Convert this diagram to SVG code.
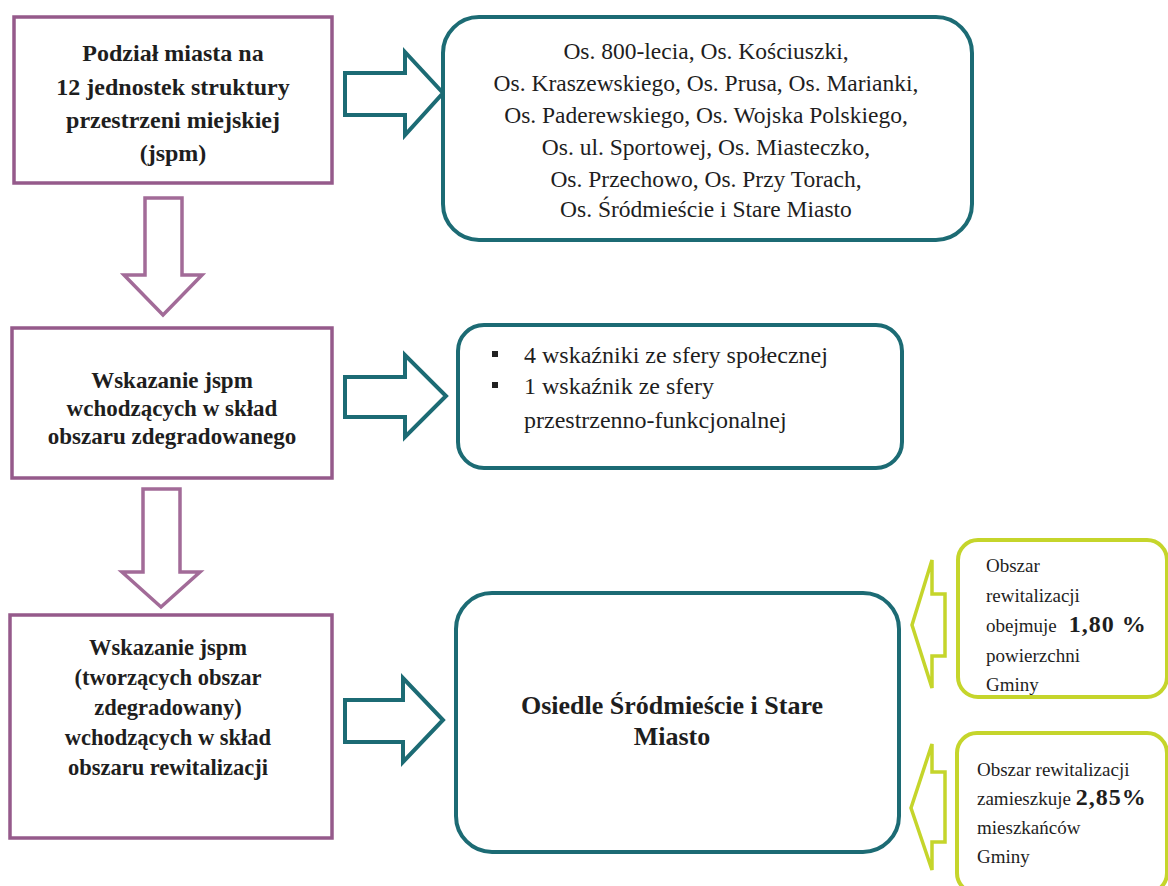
<svg xmlns="http://www.w3.org/2000/svg" width="1168" height="886" viewBox="0 0 1168 886">
<style>
.pbox{fill:#fff;stroke:#955a8b;stroke-width:3.5}
.tbox{fill:#fff;stroke:#1c6b74;stroke-width:4}
.gbox{fill:#fff;stroke:#c5d52b;stroke-width:4}
.parr{fill:#fff;stroke:#a26b98;stroke-width:3.5;stroke-linejoin:miter}
.tarr{fill:#fff;stroke:#1c6b74;stroke-width:4;stroke-linejoin:miter}
.garr{fill:#fff;stroke:#c5d52b;stroke-width:3.5;stroke-linejoin:miter}
text{font-family:"Liberation Serif","Times New Roman",serif;fill:#1e1e1e}
.b{font-weight:bold}
.c{text-anchor:middle}
.s1{font-size:24px}
.s2{font-size:23px}
.s3{font-size:22.5px}
.s4{font-size:23.5px}
.s5{font-size:24px}
.s6{font-size:26px}
.g{font-size:19px}
.gn{font-size:24px;font-weight:bold;letter-spacing:1px}
</style>
<rect width="1168" height="886" fill="#fff"/>
<g id="connectors">
<path class="parr" d="M145,198 H182 V275 H202 L163,315 L124,275 H145 Z"/>
<path class="parr" d="M143,489 H180 V572 H200 L161,607 L122,572 H143 Z"/>
<path class="tarr" d="M345,73 H405 V52 L443,93 L405,135 V115 H345 Z"/>
<path class="tarr" d="M345,377 H405 V355 L446,396 L405,437 V417 H345 Z"/>
<path class="tarr" d="M345,700 H403 V678 L443,720 L403,762 V742 H345 Z"/>
<path class="garr" d="M945,594 H932 V560 L912,625 L932,688 V656 H945 Z"/>
<path class="garr" d="M945,772 H932 V744 L911,808 L932,870 V842 H945 Z"/>
</g>
<g id="node-podzial">
<rect class="pbox" x="14" y="17" width="318" height="166"/>
<text class="b c s1" x="173" y="61">Podział miasta na</text>
<text class="b c s1" x="173" y="95">12 jednostek struktury</text>
<text class="b c s1" x="173" y="128">przestrzeni miejskiej</text>
<text class="b c s1" x="173" y="161">(jspm)</text>
</g>
<g id="node-osiedla">
<rect class="tbox" x="443" y="17" width="529" height="223" rx="36"/>
<text class="c s4" x="706" y="59">Os. 800-lecia, Os. Kościuszki,</text>
<text class="c s4" x="706" y="91">Os. Kraszewskiego, Os. Prusa, Os. Marianki,</text>
<text class="c s4" x="706" y="123">Os. Paderewskiego, Os. Wojska Polskiego,</text>
<text class="c s4" x="706" y="155">Os. ul. Sportowej, Os. Miasteczko,</text>
<text class="c s4" x="706" y="187">Os. Przechowo, Os. Przy Torach,</text>
<text class="c s4" x="706" y="217">Os. Śródmieście i Stare Miasto</text>
</g>
<g id="node-zdegradowany">
<rect class="pbox" x="12" y="328" width="320" height="150"/>
<text class="b c s2" x="172" y="388">Wskazanie jspm</text>
<text class="b c s2" x="172" y="416">wchodzących w skład</text>
<text class="b c s2" x="172" y="444">obszaru zdegradowanego</text>
</g>
<g id="node-wskazniki">
<rect class="tbox" x="458" y="325" width="444" height="143" rx="26"/>
<rect x="492" y="351" width="6" height="6" fill="#222"/>
<rect x="492" y="382" width="6" height="6" fill="#222"/>
<text class="s5" x="524" y="363">4 wskaźniki ze sfery społecznej</text>
<text class="s5" x="524" y="394">1 wskaźnik ze sfery</text>
<text class="s5" x="524" y="428">przestrzenno-funkcjonalnej</text>
</g>
<g id="node-rewitalizacja">
<rect class="pbox" x="10" y="615" width="322" height="223"/>
<text class="b c s3" x="168" y="655">Wskazanie jspm</text>
<text class="b c s3" x="168" y="685">(tworzących obszar</text>
<text class="b c s3" x="168" y="715">zdegradowany)</text>
<text class="b c s3" x="168" y="745">wchodzących w skład</text>
<text class="b c s3" x="168" y="775">obszaru rewitalizacji</text>
</g>
<g id="node-srodmiescie">
<rect class="tbox" x="456" y="593" width="443" height="259" rx="36"/>
<text class="b c s6" x="672" y="714">Osiedle Śródmieście i Stare</text>
<text class="b c s6" x="672" y="745">Miasto</text>
</g>
<g id="node-powierzchnia">
<rect class="gbox" x="958" y="540" width="209" height="157" rx="20"/>
<text class="g" x="986" y="572">Obszar</text>
<text class="g" x="986" y="602">rewitalizacji</text>
<text class="g" x="986" y="632">obejmuje<tspan class="gn" dx="12">1,80 %</tspan></text>
<text class="g" x="986" y="662">powierzchni</text>
<text class="g" x="986" y="691">Gminy</text>
</g>
<g id="node-mieszkancy">
<rect class="gbox" x="957" y="733" width="210" height="160" rx="20"/>
<text class="g" x="977" y="776">Obszar rewitalizacji</text>
<text class="g" x="977" y="805">zamieszkuje <tspan class="gn">2,85%</tspan></text>
<text class="g" x="977" y="834">mieszkańców</text>
<text class="g" x="977" y="863">Gminy</text>
</g>
</svg>
